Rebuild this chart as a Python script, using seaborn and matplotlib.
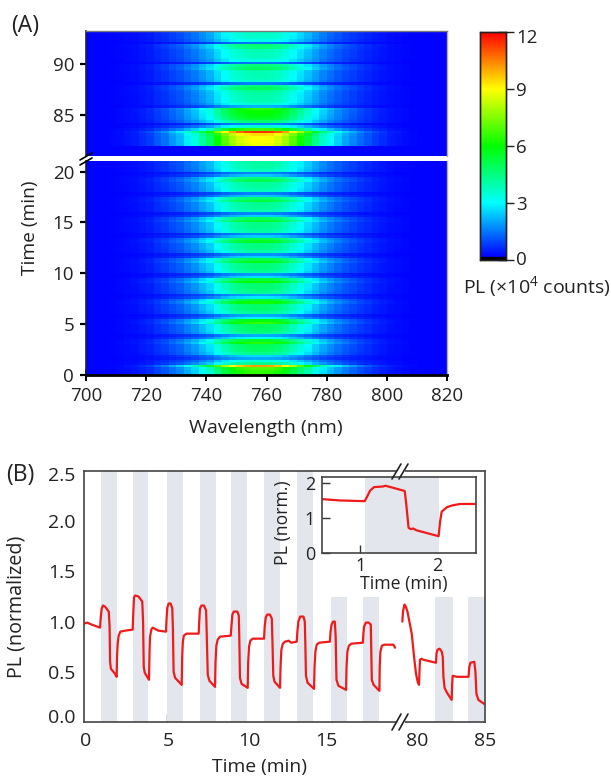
import numpy as np
import seaborn as sns
import matplotlib
matplotlib.use("Agg")
import matplotlib.pyplot as plt
from matplotlib.colors import LinearSegmentedColormap
from matplotlib.lines import Line2D
from matplotlib.transforms import ScaledTranslation

W, H = 611, 777

# spectral shape, 700-820 nm in 2.5 nm bins
shape = [0, 0, 0, 0.005, 0.01, 0.02, 0.03, 0.05, 0.07, 0.11, 0.14, 0.19,
         0.23, 0.3, 0.36, 0.45, 0.53, 0.66, 0.78, 0.88, 0.94, 0.98, 1.0, 1.0,
         0.99, 0.95, 0.88, 0.78, 0.68, 0.58, 0.48, 0.39, 0.32, 0.26, 0.21, 0.17,
         0.13, 0.1, 0.07, 0.05, 0.03, 0.02, 0.01, 0.005, 0, 0, 0, 0]
# centre intensity (x10^4 counts), 0.25 min rows
amp_low = [6.3, 6.4, 6.7, 10.0, 4.2, 3.2, 1.9, 2.4,
           4.2, 4.6, 4.7, 4.8, 6.2, 5.4, 2.8, 1.9,
           4.2, 4.6, 4.7, 4.7, 6.4, 5.7, 2.7, 1.9,
           4.1, 4.5, 4.6, 4.6, 6.0, 5.2, 2.6, 1.8,
           4.1, 4.4, 4.5, 4.5, 5.9, 5.2, 2.5, 1.7,
           4.0, 4.3, 4.4, 4.4, 5.6, 5.0, 2.4, 1.6,
           3.9, 4.2, 4.3, 4.3, 5.4, 4.9, 2.3, 1.5,
           3.9, 4.1, 4.2, 4.2, 5.3, 4.7, 2.3, 1.5,
           3.8, 4.0, 4.1, 4.1, 5.1, 4.6, 2.2, 1.4,
           3.7, 3.9, 4.0, 4.0, 4.9, 4.4, 2.2, 1.4,
           3.6, 3.8, 3.9, 3.9]
amp_high = [0, 0, 0, 0,
            8.6, 8.8, 8.8, 8.7,
            9.2, 11.3, 6.5, 3.4,
            1.5, 4.6, 5.3, 5.6,
            5.8, 5.9, 6.3, 2.0,
            3.3, 3.7, 3.8, 3.8,
            3.9, 4.1, 4.8, 4.4,
            1.4, 3.4, 3.6, 3.7,
            3.7, 3.8, 4.7, 4.4,
            1.3, 3.2, 3.5, 3.6,
            3.6, 3.7, 4.3, 4.5,
            1.3, 3.1, 3.4, 3.5,
            3.5]
background = 0.2

wl_ticks = [700, 720, 740, 760, 780, 800, 820]
low_ticks = [0, 5, 10, 15, 20]
high_ticks = [85, 90]
cbar_ticks = [0, 3, 6, 9, 12]

# panel B trace, x is position on the broken axis in minutes
t_early = [0, 0.2, 0.46, 0.8, 0.97,
           1.02, 1.07, 1.15, 1.27, 1.5, 1.55, 1.58, 1.63, 1.88, 1.98, 2.0, 2.04, 2.1, 2.2, 2.5, 2.95,
           2.99, 3.03, 3.1, 3.3, 3.53, 3.58, 3.62, 3.68, 3.94, 3.97, 4.0, 4.08, 4.16, 4.5, 4.97,
           5.0, 5.05, 5.13, 5.25, 5.35, 5.39, 5.43, 5.52, 5.92, 5.95, 5.99, 6.05, 6.2, 6.95,
           6.98, 7.03, 7.12, 7.27, 7.4, 7.44, 7.5, 7.6, 7.94, 7.97, 8.02, 8.1, 8.24, 8.89,
           8.93, 8.99, 9.08, 9.29, 9.38, 9.41, 9.45, 9.55, 9.92, 9.95, 10.0, 10.08, 10.22, 10.91,
           10.95, 11.01, 11.1, 11.27, 11.38, 11.42, 11.47, 11.55, 11.88, 11.91, 11.96, 12.05, 12.18,
           12.4, 12.55, 12.89,
           12.93, 12.99, 13.1, 13.3, 13.38, 13.41, 13.45, 13.55, 13.94, 13.97, 14.02, 14.1, 14.25, 14.9,
           14.94, 15.0, 15.1, 15.2, 15.25, 15.3, 15.42, 15.88, 15.91, 15.96, 16.05, 16.2, 16.9,
           16.93, 16.97, 17.08, 17.25, 17.38, 17.41, 17.44, 17.55, 17.9, 17.92, 17.96, 18.05, 18.2,
           18.75, 18.85]
pl_early = [0.98, 0.99, 0.97, 0.95, 0.94,
            1.05, 1.13, 1.16, 1.15, 1.10, 0.95, 0.60, 0.53, 0.48, 0.45, 0.65, 0.78, 0.86, 0.90, 0.91, 0.92,
            1.1, 1.24, 1.26, 1.25, 1.20, 1.0, 0.55, 0.49, 0.42, 0.7, 0.85, 0.92, 0.94, 0.91, 0.90,
            1.02, 1.14, 1.18, 1.18, 1.13, 0.9, 0.50, 0.44, 0.37, 0.65, 0.80, 0.86, 0.88, 0.88,
            1.0, 1.13, 1.16, 1.16, 1.11, 0.85, 0.47, 0.41, 0.35, 0.6, 0.76, 0.82, 0.85, 0.86,
            0.95, 1.07, 1.10, 1.10, 1.06, 0.85, 0.44, 0.38, 0.34, 0.6, 0.75, 0.81, 0.83, 0.83,
            0.95, 1.04, 1.07, 1.07, 1.03, 0.8, 0.46, 0.40, 0.34, 0.55, 0.72, 0.78, 0.80,
            0.81, 0.79, 0.80,
            0.9, 1.0, 1.05, 1.05, 1.0, 0.8, 0.46, 0.39, 0.33, 0.55, 0.70, 0.77, 0.79, 0.80,
            0.9, 0.97, 1.0, 1.0, 0.85, 0.42, 0.36, 0.32, 0.55, 0.70, 0.76, 0.78, 0.79,
            0.88, 0.95, 0.99, 0.99, 0.97, 0.7, 0.42, 0.37, 0.31, 0.55, 0.70, 0.76, 0.77,
            0.77, 0.74]
t_late = [19.29, 19.33, 19.42, 19.5, 19.6, 19.86, 20.0, 20.12, 20.22, 20.3, 20.33, 20.36, 20.45, 20.57,
          21.33, 21.36, 21.42, 21.55, 21.68, 21.74, 21.78, 21.85, 22.0, 22.28, 22.31, 22.34, 22.6,
          23.3, 23.35, 23.42, 23.65, 23.72, 23.78, 23.9, 24.25]
pl_late = [1.0, 1.1, 1.17, 1.15, 1.10, 0.88, 0.65, 0.48, 0.40, 0.37, 0.5, 0.62, 0.63, 0.62,
           0.59, 0.68, 0.72, 0.73, 0.70, 0.65, 0.45, 0.34, 0.29, 0.22, 0.38, 0.46, 0.45,
           0.45, 0.55, 0.59, 0.60, 0.5, 0.28, 0.22, 0.18]
band_start = [1.03, 2.95, 5.03, 7.0, 8.9, 10.9, 12.9, 14.95, 16.9, 21.3, 23.3]
band_end = [2.0, 3.9, 6.0, 8.0, 9.9, 11.9, 13.9, 15.95, 17.9, 22.36, 24.3]
band_top = [2.5, 2.5, 2.5, 2.5, 2.5, 2.5, 2.5, 1.25, 1.25, 1.25, 1.25]
xlabel_pos = [0.1, 5.1, 10, 14.7, 20.2, 24.3]
xlabel_txt = ['0', '5', '10', '15', '80', '85']

# inset trace
t_inset = [0.5, 0.74, 1.06, 1.09, 1.13, 1.18, 1.30, 1.33, 1.45, 1.58, 1.60, 1.63, 1.66, 1.69, 1.73,
           2.02, 2.04, 2.06, 2.13, 2.2, 2.3, 2.49]
pl_inset = [1.54, 1.50, 1.48, 1.6, 1.78, 1.88, 1.90, 1.92, 1.85, 1.77, 1.4, 0.72, 0.68, 0.70, 0.65,
            0.48, 0.9, 1.18, 1.31, 1.36, 1.40, 1.40]


def axes_px(fig, left, top, right, bottom):
    return fig.add_axes([left / W, 1 - bottom / H, (right - left) / W, (bottom - top) / H])


def text_px(fig, x, y, s, **kw):
    fig.text(x / W, 1 - y / H, s, ha='center', va='center', **kw)


def line_px(fig, xs, ys, **kw):
    fig.add_artist(Line2D([x / W for x in xs], [1 - y / H for y in ys], **kw))


def shift_label(fig, label, dy_px):
    label.set_transform(label.get_transform() + ScaledTranslation(0, dy_px / 100, fig.dpi_scale_trans))


sns.set_theme(style='white')
plt.rcParams['font.family'] = ['Open Sans', 'DejaVu Sans']
plt.rcParams['mathtext.default'] = 'regular'

fig = plt.figure(figsize=(W / 100, H / 100), dpi=100)

cmap = LinearSegmentedColormap.from_list('pl', [(0, 'black'), (0.012, 'black'), (0.014, '#0000ff'),
                                                (0.25, '#00ffff'), (0.5, '#00ff00'), (0.75, '#ffff00'),
                                                (1, '#ff0000')], N=512)

shape_arr = np.array(shape)
mat_low = background + np.outer(amp_low, shape_arr)
mat_high = background + np.outer(amp_high, shape_arr)

ax_high = axes_px(fig, 86, 31.4, 447, 156)
ax_low = axes_px(fig, 86, 161.5, 447, 375)
cax = axes_px(fig, 480, 32, 505.5, 260)

sns.heatmap(mat_high, ax=ax_high, cmap=cmap, vmin=0, vmax=12, cbar=False, xticklabels=False, yticklabels=False)
sns.heatmap(mat_low, ax=ax_low, cmap=cmap, vmin=0, vmax=12, cbar_ax=cax, xticklabels=False, yticklabels=False)
ax_high.invert_yaxis()
ax_low.invert_yaxis()

ax_low.set_xticks([(w - 700) / 2.5 for w in wl_ticks], [str(w) for w in wl_ticks])
ax_low.set_yticks([t / 0.25 for t in low_ticks], [str(t) for t in low_ticks])
ax_high.set_xticks([])
ax_high.set_yticks([(t - 81) / 0.25 for t in high_ticks], [str(t) for t in high_ticks])
for ax in (ax_low, ax_high):
    ax.tick_params(axis='y', direction='inout', length=9, width=1.6, color='black', labelsize=13.5,
                   pad=4, left=True, labelcolor='#222222')
    ax.tick_params(axis='x', direction='inout', length=8, width=1.4, color='black', labelsize=13.5,
                   pad=5, bottom=True, labelcolor='#222222')
    for side in ax.spines:
        ax.spines[side].set_visible(True)
    ax.spines['left'].set(color='#222222', linewidth=1.2)
    ax.spines['right'].set(color='#b5b09c', linewidth=1.0)
    ax.spines['top'].set(color='#777777', linewidth=1.0)
    ax.spines['bottom'].set(visible=False)
ax_low.spines['bottom'].set(visible=True, color='black', linewidth=2)
ax_low.spines['top'].set_visible(False)

# break marks on the left spine
line_px(fig, [80, 92], [160, 153], color='black', lw=1.2)
line_px(fig, [80, 92], [165, 158], color='black', lw=1.2)

cax.set_yticks(cbar_ticks, [str(v) for v in cbar_ticks])
cax.tick_params(axis='y', direction='inout', length=11, width=1.0, color='#222222', labelsize=13.5,
                pad=2, right=True, left=False, labelcolor='#222222')
for side in cax.spines:
    cax.spines[side].set_visible(True)
    cax.spines[side].set(color='#222222', linewidth=1.0)
cax.yaxis.set_ticks_position('right')
shift_label(fig, cax.get_yticklabels()[-1], -4)
shift_label(fig, cax.get_yticklabels()[0], 2)

text_px(fig, 25, 26, '(A)', fontsize=16.5, color='#222222')
text_px(fig, 30, 228, 'Time (min)', fontsize=13.8, rotation=90, color='#222222')
text_px(fig, 266, 428, 'Wavelength (nm)', fontsize=14, color='#222222')
text_px(fig, 537, 287, 'PL (×10$^{4}$ counts)', fontsize=14, color='#222222')

# panel B
ax_b = axes_px(fig, 84, 471, 485, 722)
for start, end, top in zip(band_start, band_end, band_top):
    ax_b.axvspan(start, end, ymin=0, ymax=top / 2.5, color='#e3e7ed', lw=0)
sns.lineplot(x=t_early, y=pl_early, ax=ax_b, color='#f01a1a', lw=1.6, sort=False, estimator=None)
sns.lineplot(x=t_late, y=pl_late, ax=ax_b, color='#f01a1a', lw=1.6, sort=False, estimator=None)
ax_b.set_xlim(0, 24.3)
ax_b.set_ylim(0, 2.5)
ax_b.set_yticks([0, 0.5, 1, 1.5, 2, 2.5], ['0.0', '0.5', '1.0', '1.5', '2.0', '2.5'])
ax_b.set_xticks(xlabel_pos, xlabel_txt)
ax_b.set_xticks([5, 10, 15], minor=True)
ax_b.tick_params(axis='both', which='major', length=0, labelsize=14, labelcolor='#222222')
ax_b.tick_params(axis='x', which='major', pad=7)
ax_b.tick_params(axis='y', which='major', pad=6)
ax_b.tick_params(axis='x', which='minor', direction='in', length=6, width=1.0, color='#333333', bottom=True)
shift_label(fig, ax_b.get_yticklabels()[0], 6)
shift_label(fig, ax_b.get_yticklabels()[-1], -3)
for side in ax_b.spines:
    ax_b.spines[side].set(color='#444444', linewidth=1.2)

# axis break on panel B
for y0, y1 in ((479, 464), (730, 714)):
    line_px(fig, [399, 403], [(y0 + y1) / 2, (y0 + y1) / 2], color='white', lw=3)
    line_px(fig, [392, 401], [y0, y1], color='#222222', lw=1.2)
    line_px(fig, [399, 408], [y0, y1], color='#222222', lw=1.2)

text_px(fig, 20, 475, '(B)', fontsize=16.5, color='#222222')
text_px(fig, 17, 607, 'PL (normalized)', fontsize=14.2, rotation=90, color='#222222')
text_px(fig, 259, 767, 'Time (min)', fontsize=13.9, color='#222222')

# inset
ax_in = axes_px(fig, 322, 477, 476, 553)
ax_in.axvspan(1.06, 2.03, color='#e3e7ed', lw=0)
sns.lineplot(x=t_inset, y=pl_inset, ax=ax_in, color='#f01a1a', lw=1.6, sort=False, estimator=None)
ax_in.set_xlim(0.506, 2.506)
ax_in.set_ylim(0, 2.17)
ax_in.set_xticks([1, 2], ['1', '2'])
ax_in.set_yticks([0, 1, 2], ['0', '1', '2'])
ax_in.tick_params(axis='both', direction='in', length=5.5, width=1.0, color='#333333', labelsize=13,
                  labelcolor='#222222', bottom=True, left=True)
ax_in.tick_params(axis='x', pad=3)
ax_in.tick_params(axis='y', pad=5)
for side in ax_in.spines:
    ax_in.spines[side].set(color='#444444', linewidth=1.2)
text_px(fig, 283, 523, 'PL (norm.)', fontsize=12.7, rotation=90, color='#222222')
text_px(fig, 404, 584, 'Time (min)', fontsize=12.8, color='#222222')

fig.savefig('out.png', dpi=100)
